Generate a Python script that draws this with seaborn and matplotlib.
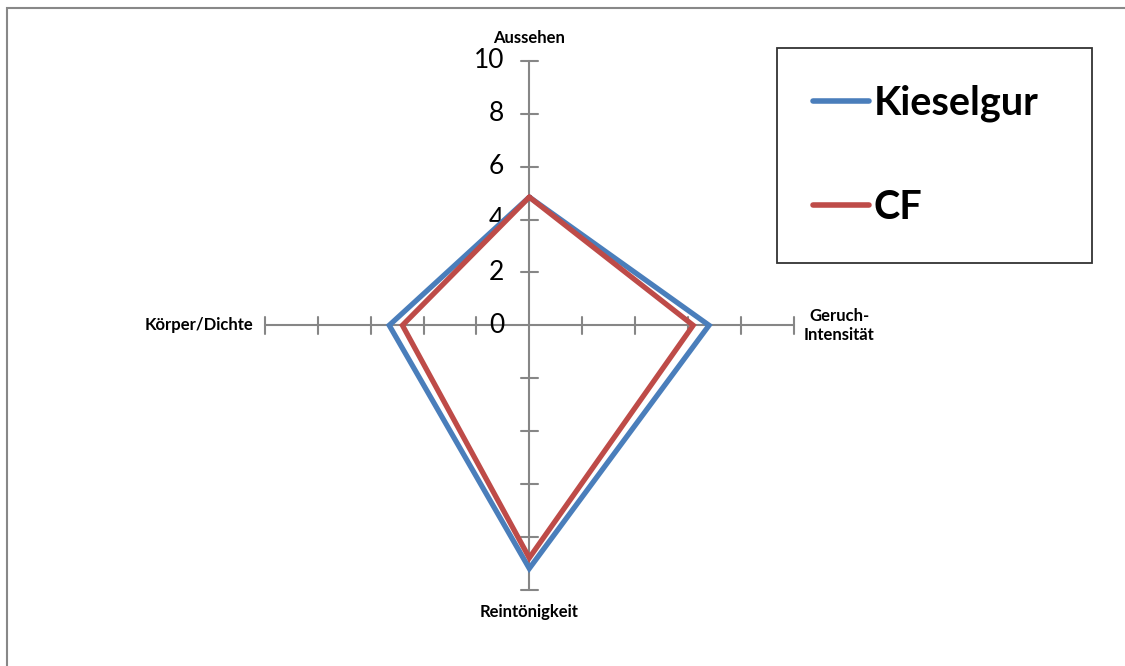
import numpy as np
import pandas as pd
import matplotlib
matplotlib.use("Agg")
import matplotlib.pyplot as plt
import seaborn as sns
from matplotlib.patches import Rectangle
from matplotlib.lines import Line2D

categories = ["Aussehen", "Geruch-\nIntensität", "Reintönigkeit", "Körper/Dichte"]
kieselgur = [4.85, 6.8, 9.2, 5.3]
cf = [4.85, 6.2, 8.8, 4.8]
series_names = ["Kieselgur", "CF"]
tick_values = [0, 2, 4, 6, 8, 10]
colors = {"Kieselgur": "#4A7EBB", "CF": "#BE4B48"}

sns.set_theme(style="white")
plt.rcParams["font.family"] = ["Lato", "DejaVu Sans"]
plt.rcParams["text.color"] = "black"

W, H = 1125, 666
fig = plt.figure(figsize=(W / 100, H / 100), dpi=100)
ax = fig.add_axes([0, 0, 1, 1])
cx, cy, unit = 529.3, 325.3, 26.43
ax.set_xlim(-cx / unit, (W - cx) / unit)
ax.set_ylim(-(H - cy) / unit, cy / unit)
ax.axis("off")

# angles: top, right, bottom, left (clockwise from top)
angles = np.pi / 2 - np.arange(len(categories)) * 2 * np.pi / len(categories)

rows = []
for name, vals in zip(series_names, [kieselgur, cf]):
    v = list(vals) + [vals[0]]
    a = list(angles) + [angles[0]]
    for i, (r, t) in enumerate(zip(v, a)):
        rows.append({"series": name, "order": i, "x": r * np.cos(t), "y": r * np.sin(t)})
df = pd.DataFrame(rows)

# axes spokes and ticks
rmax = tick_values[-1]
axis_col = "#868686"
for t in angles:
    ax.plot([0, rmax * np.cos(t)], [0, rmax * np.sin(t)], color=axis_col, lw=1.5, zorder=1)
    px, py = -np.sin(t), np.cos(t)
    for tv in tick_values[1:]:
        bx, by = tv * np.cos(t), tv * np.sin(t)
        h = 0.32
        ax.plot([bx - h * px, bx + h * px], [by - h * py, by + h * py],
                color=axis_col, lw=1.5, zorder=1)

for tv in tick_values:
    ax.text(-0.95, tv, str(tv), ha="right", va="center", fontsize=19, color="black", zorder=2)

sns.lineplot(data=df, x="x", y="y", hue="series", units="series", estimator=None,
             sort=False, palette=colors, hue_order=series_names, lw=3.8, ax=ax,
             legend=False, zorder=3)
for line in ax.get_lines()[-2:]:
    line.set_solid_joinstyle("miter")

# category labels
label_pos = [(0.0, 10.87, "center"), (11.72, 0.0, "center"),
             (0.0, -10.85, "center"), (-10.45, 0.0, "right")]
for c, (x, y, ha) in zip(categories, label_pos):
    ax.text(x, y, c, ha=ha, va="center", fontsize=12, fontweight="bold",
            color="black", linespacing=1.25)

# legend
handles = [Line2D([], [], color=colors[n], lw=4, solid_capstyle="round") for n in series_names]
leg = fig.legend(handles, series_names, loc="upper left",
                 bbox_to_anchor=(777 / W, 1 - 259 / H, 315 / W, 211 / H),
                 bbox_transform=fig.transFigure, mode="expand",
                 prop={"size": 28.5, "weight": "bold"}, frameon=True, fancybox=False,
                 handlelength=1.4, handletextpad=0.12, labelspacing=1.70,
                 borderpad=0.92, borderaxespad=0)
leg.get_frame().set_edgecolor("black")
leg.get_frame().set_linewidth(1.3)
for txt in leg.get_texts():
    txt.set_color("black")

# figure border
fig.patches.append(Rectangle((6.5 / W, -0.1), 1.2, 1 - 7.5 / H + 0.1, transform=fig.transFigure,
                             fill=False, edgecolor="#888888", lw=1.5))

fig.savefig("out.png", dpi=100)
